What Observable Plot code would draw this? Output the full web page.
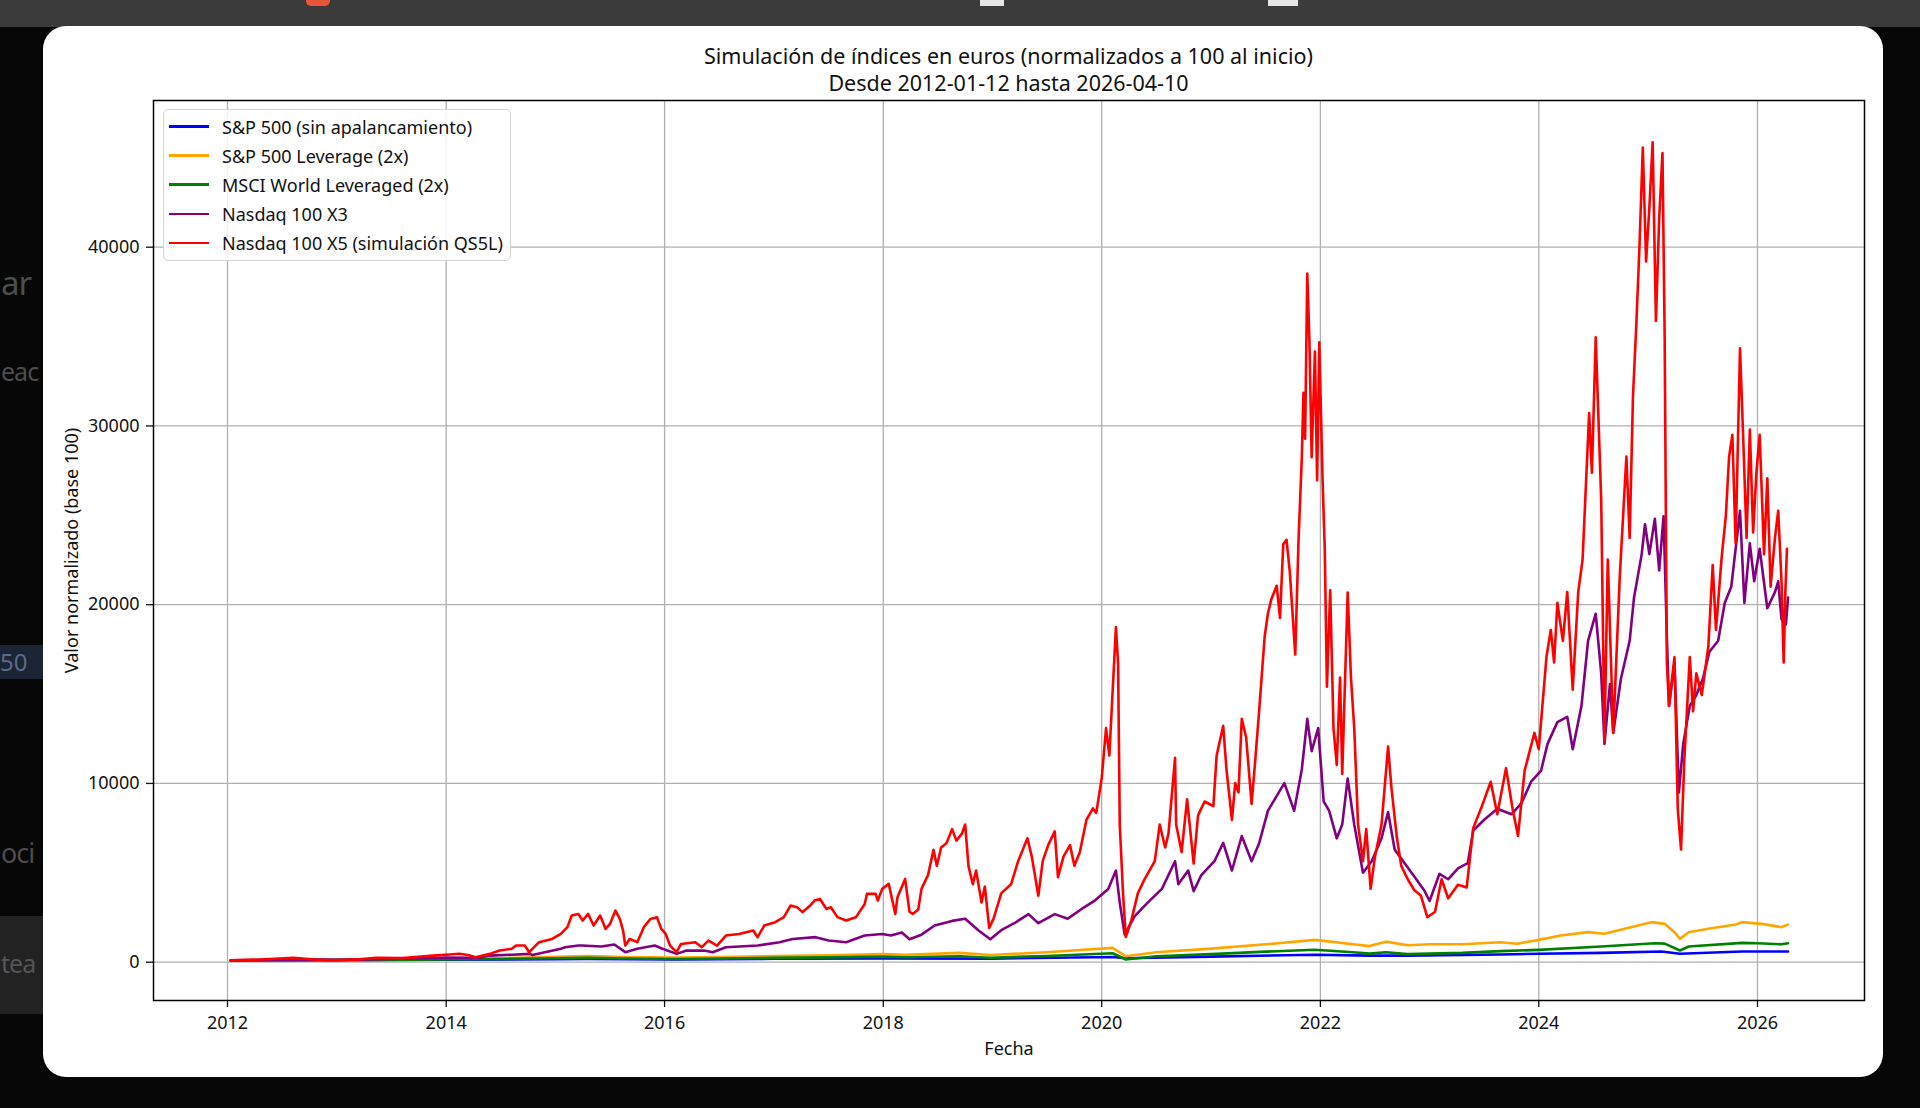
<!DOCTYPE html>
<html lang="es">
<head>
<meta charset="utf-8">
<script src="https://cdn.jsdelivr.net/npm/d3@7"></script>
<script src="https://cdn.jsdelivr.net/npm/@observablehq/plot@0.6"></script>
<style>
  html, body { margin: 0; padding: 0; width: 1920px; height: 1108px; overflow: hidden; background: #070707; font-family: "Noto Sans", sans-serif; }
  #topbar { position: absolute; left: 0; top: 0; width: 1920px; height: 27px; background: #3b3b3b; }
  .bgtxt { position: absolute; left: 1px; color: #4d4d4d; white-space: nowrap; letter-spacing: -1px; }
  #card { position: absolute; left: 43px; top: 26px; width: 1840px; height: 1051px; background: #fff; border-radius: 23px; }
  #chart { position: absolute; left: 0; top: 0; }
  #title { position: absolute; left: 153px; width: 1711px; top: 43px; text-align: center; font-size: 21.5px; line-height: 26.6px; color: #111; }
  #legend { position: absolute; left: 163px; top: 109px; width: 346px; height: 150px; border: 1px solid #d4d4d4; border-radius: 5px; background: rgba(255,255,255,0.85); }
  .lrow { position: absolute; left: 0; height: 29px; display: flex; align-items: center; font-size: 18px; color: #111; white-space: nowrap; }
  .lsw { width: 40px; height: 2.6px; margin-left: 5px; margin-right: 13px; }
</style>
</head>
<body>
<div id="topbar"></div>
<div style="position:absolute;left:306px;top:0;width:24px;height:6px;background:#e8553c;border-radius:0 0 5px 5px;"></div>
<div style="position:absolute;left:980px;top:0;width:24px;height:6px;background:#e6e6e6;"></div>
<div style="position:absolute;left:1268px;top:0;width:30px;height:6px;background:#e6e6e6;"></div>
<div class="bgtxt" style="top:260px;font-size:33px;">ar</div>
<div class="bgtxt" style="top:354px;font-size:25px;">eac</div>
<div style="position:absolute;left:0;top:645px;width:43px;height:34px;background:#1b2536;color:#5c6b85;font-size:24px;line-height:34px;">50</div>
<div class="bgtxt" style="top:834px;font-size:27px;">oci</div>
<div style="position:absolute;left:0;top:916px;width:43px;height:98px;background:#222;"></div>
<div class="bgtxt" style="top:946px;font-size:25px;color:#555;">tea</div>
<div id="card"></div>
<div id="chart"></div>
<div id="title">Simulación de índices en euros (normalizados a 100 al inicio)<br>Desde 2012-01-12 hasta 2026-04-10</div>
<div id="legend"></div>
<script>
// ---- Data (decimal year, value in base-100 euros) ----
const seriesNames = [
  "S&P 500 (sin apalancamiento)",
  "S&P 500 Leverage (2x)",
  "MSCI World Leveraged (2x)",
  "Nasdaq 100 X3",
  "Nasdaq 100 X5 (simulación QS5L)"
];
const seriesColors = ["#0000ff", "#ffa500", "#008000", "#800080", "#ff0000"];

const sp500 = [
  [2012.03,100],[2013.0,115],[2014.0,140],[2015.0,170],[2015.3,185],[2015.65,165],[2016.1,160],
  [2017.0,190],[2018.0,210],[2018.98,200],[2020.1,290],[2020.22,220],[2021.0,310],[2021.95,420],
  [2022.45,370],[2022.8,370],[2023.65,430],[2024.0,470],[2024.57,520],[2025.12,600],[2025.29,470],
  [2025.86,600],[2026.28,600]
];
const sp500x2 = [
  [2012.03,100],[2012.5,120],[2013.0,130],[2013.5,160],[2014.0,190],[2014.5,220],[2015.0,300],
  [2015.3,350],[2015.65,290],[2016.1,260],[2016.5,290],[2017.0,340],[2017.5,380],[2018.0,450],
  [2018.2,420],[2018.7,520],[2018.98,400],[2019.5,560],[2020.1,800],[2020.22,330],[2020.5,560],
  [2021.0,760],[2021.5,1000],[2021.95,1250],[2022.3,1000],[2022.45,900],[2022.6,1150],[2022.8,950],
  [2023.0,1000],[2023.3,1000],[2023.65,1120],[2023.8,1030],[2024.0,1250],[2024.2,1490],[2024.45,1680],
  [2024.6,1590],[2024.84,1960],[2025.03,2240],[2025.15,2145],[2025.24,1680],[2025.29,1306],
  [2025.37,1680],[2025.55,1870],[2025.8,2110],[2025.86,2240],[2026.04,2145],[2026.22,1960],[2026.28,2110]
];
const msci2x = [
  [2012.03,100],[2012.5,110],[2013.0,120],[2013.5,140],[2014.0,160],[2014.5,180],[2015.0,220],
  [2015.3,250],[2015.65,210],[2016.1,180],[2016.5,200],[2017.0,240],[2017.5,270],[2018.0,310],
  [2018.2,280],[2018.7,330],[2018.98,250],[2019.5,350],[2020.1,500],[2020.22,150],[2020.5,330],
  [2021.0,450],[2021.5,590],[2021.95,700],[2022.3,560],[2022.45,480],[2022.6,560],[2022.8,450],
  [2023.0,480],[2023.3,520],[2023.65,618],[2024.0,690],[2024.57,875],[2025.06,1060],[2025.15,1040],
  [2025.29,655],[2025.37,875],[2025.86,1080],[2026.0,1060],[2026.22,1000],[2026.28,1060]
];
const ndx3 = [
  [2012.03,100],[2012.6,160],[2013.0,130],[2013.5,180],[2014.0,260],[2014.3,250],[2014.4,370],
  [2014.6,420],[2014.77,465],[2014.79,400],[2015.05,750],[2015.09,840],[2015.21,930],[2015.24,935],
  [2015.42,875],[2015.54,990],[2015.64,560],[2015.75,750],[2015.91,930],[2015.98,750],[2016.11,465],
  [2016.2,650],[2016.36,650],[2016.44,560],[2016.56,840],[2016.85,930],[2017.05,1120],[2017.17,1300],
  [2017.38,1400],[2017.5,1210],[2017.66,1120],[2017.83,1490],[2017.99,1580],[2018.07,1490],
  [2018.17,1665],[2018.24,1280],[2018.35,1540],[2018.47,2050],[2018.63,2310],[2018.75,2435],
  [2018.87,1790],[2018.98,1280],[2019.08,1790],[2019.2,2180],[2019.33,2690],[2019.42,2180],
  [2019.57,2690],[2019.69,2435],[2019.81,2950],[2019.94,3460],[2020.06,4100],[2020.13,5130],
  [2020.165,3335],[2020.21,1540],[2020.30,2565],[2020.42,3335],[2020.55,4100],[2020.67,5650],
  [2020.70,4360],[2020.79,5130],[2020.84,3975],[2020.91,4875],[2021.03,5650],[2021.11,6675],
  [2021.19,5130],[2021.28,7060],[2021.37,5650],[2021.44,6675],[2021.52,8475],[2021.67,10015],
  [2021.76,8475],[2021.83,10785],[2021.88,13610],[2021.92,11810],[2021.98,13100],[2022.03,8990],
  [2022.08,8475],[2022.15,6930],[2022.20,7700],[2022.25,10270],[2022.31,7700],[2022.39,5005],
  [2022.47,5650],[2022.56,6930],[2022.62,8400],[2022.68,6300],[2022.77,5545],[2022.86,4790],
  [2022.95,4030],[2023.0,3425],[2023.09,4940],[2023.17,4640],[2023.26,5245],[2023.35,5545],
  [2023.40,7365],[2023.50,7970],[2023.62,8580],[2023.75,8275],[2023.84,8880],[2023.93,10095],
  [2024.02,10700],[2024.08,12215],[2024.17,13430],[2024.26,13730],[2024.31,11915],[2024.39,14340],
  [2024.45,17980],[2024.52,19495],[2024.57,16160],[2024.60,12215],[2024.65,15555],[2024.68,12825],
  [2024.75,15860],[2024.83,17980],[2024.87,20405],[2024.94,22830],[2024.97,24500],[2025.01,22830],
  [2025.06,24800],[2025.10,21920],[2025.14,24950],[2025.17,18280],[2025.19,14340],[2025.24,16765],
  [2025.28,9490],[2025.32,12215],[2025.38,14340],[2025.44,14945],[2025.50,15860],[2025.56,17370],
  [2025.64,17980],[2025.70,20100],[2025.76,21010],[2025.84,25255],[2025.88,20100],[2025.93,23435],
  [2025.97,21310],[2026.02,23130],[2026.09,19800],[2026.16,20705],[2026.19,21310],[2026.22,19190],
  [2026.26,18890],[2026.28,20400]
];
const qs5l = [
  [2012.03,100],[2012.3,150],[2012.6,240],[2012.8,150],[2012.97,110],[2013.2,160],[2013.36,240],
  [2013.6,230],[2013.88,370],[2014.03,430],[2014.12,470],[2014.2,400],[2014.27,280],[2014.4,465],
  [2014.49,655],[2014.6,750],[2014.64,935],[2014.72,930],[2014.76,560],[2014.85,1120],[2014.97,1300],
  [2015.05,1585],[2015.11,1960],[2015.15,2610],[2015.21,2700],[2015.25,2330],[2015.3,2700],
  [2015.35,2050],[2015.41,2610],[2015.46,1860],[2015.5,2140],[2015.55,2890],[2015.59,2425],
  [2015.62,1770],[2015.64,930],[2015.68,1300],[2015.75,1120],[2015.81,1960],[2015.87,2420],
  [2015.93,2520],[2015.97,1860],[2016.01,1580],[2016.05,930],[2016.11,560],[2016.15,1020],
  [2016.28,1120],[2016.34,840],[2016.4,1210],[2016.48,930],[2016.56,1490],[2016.68,1580],
  [2016.81,1770],[2016.85,1400],[2016.91,2050],[2017.01,2240],[2017.09,2520],[2017.15,3170],
  [2017.21,3080],[2017.26,2800],[2017.33,3170],[2017.37,3450],[2017.42,3540],[2017.48,2980],
  [2017.52,3070],[2017.58,2520],[2017.66,2330],[2017.75,2520],[2017.83,3260],[2017.85,3820],
  [2017.93,3820],[2017.95,3450],[2017.99,4100],[2018.05,4380],[2018.07,3820],[2018.11,2700],
  [2018.13,3630],[2018.2,4660],[2018.24,2820],[2018.27,2700],[2018.32,2950],[2018.35,4100],
  [2018.41,4875],[2018.46,6290],[2018.49,5390],[2018.53,6420],[2018.58,6675],[2018.63,7445],
  [2018.67,6800],[2018.72,7190],[2018.75,7700],[2018.78,5390],[2018.82,4360],[2018.85,5130],
  [2018.9,3335],[2018.93,4235],[2018.97,1920],[2019.01,2435],[2019.08,3850],[2019.17,4360],
  [2019.235,5650],[2019.32,6930],[2019.36,5905],[2019.42,3720],[2019.46,5650],[2019.51,6550],
  [2019.57,7320],[2019.6,4750],[2019.65,5905],[2019.71,6550],[2019.75,5390],[2019.8,6160],
  [2019.86,7960],[2019.92,8600],[2019.95,8345],[2020.0,10270],[2020.04,13100],[2020.07,11560],
  [2020.13,18750],[2020.15,16700],[2020.165,7700],[2020.195,3850],[2020.22,1410],[2020.27,2310],
  [2020.33,3850],[2020.39,4620],[2020.485,5650],[2020.53,7700],[2020.58,6420],[2020.61,7190],
  [2020.67,11430],[2020.68,7700],[2020.73,6160],[2020.78,9115],[2020.84,5520],[2020.88,8215],
  [2020.94,8990],[2021.02,8730],[2021.05,11560],[2021.11,13225],[2021.14,10785],[2021.19,7960],
  [2021.22,10015],[2021.25,9500],[2021.28,13610],[2021.32,12585],[2021.37,8860],[2021.4,11040],
  [2021.44,14125],[2021.49,18235],[2021.52,19520],[2021.55,20290],[2021.6,21060],[2021.63,19260],
  [2021.66,23375],[2021.69,23630],[2021.72,21830],[2021.77,17210],[2021.8,23630],[2021.83,28255],
  [2021.845,31850],[2021.86,29280],[2021.88,38530],[2021.90,34680],[2021.92,28255],[2021.95,34165],
  [2021.97,26970],[2021.99,34680],[2022.02,26970],[2022.04,23115],[2022.06,15410],[2022.09,20805],
  [2022.12,13100],[2022.15,11040],[2022.18,15925],[2022.20,10530],[2022.25,20675],[2022.28,15925],
  [2022.31,13100],[2022.345,7700],[2022.39,5650],[2022.42,7445],[2022.46,4105],[2022.5,5905],
  [2022.56,7700],[2022.62,12070],[2022.65,9790],[2022.70,7000],[2022.74,5400],[2022.80,4640],
  [2022.86,4030],[2022.92,3730],[2022.98,2515],[2023.05,2820],[2023.11,4640],[2023.17,3575],
  [2023.26,4335],[2023.34,4180],[2023.40,7515],[2023.47,8580],[2023.56,10095],[2023.62,8275],
  [2023.70,10855],[2023.76,8580],[2023.81,7065],[2023.87,10700],[2023.96,12825],[2024.0,11915],
  [2024.07,17070],[2024.11,18585],[2024.14,16765],[2024.17,20100],[2024.22,17980],[2024.26,20705],
  [2024.31,15250],[2024.36,20705],[2024.40,22525],[2024.46,30715],[2024.485,27380],[2024.52,34955],
  [2024.54,31320],[2024.57,25860],[2024.60,12370],[2024.63,22525],[2024.68,12825],[2024.74,21615],
  [2024.80,28285],[2024.83,23740],[2024.86,31620],[2024.89,35565],[2024.92,40110],[2024.95,45570],
  [2024.98,39200],[2025.01,42235],[2025.04,45870],[2025.07,35870],[2025.10,41630],[2025.13,45265],
  [2025.15,34955],[2025.17,16765],[2025.19,14340],[2025.24,17070],[2025.27,8580],[2025.30,6305],
  [2025.33,11310],[2025.38,17070],[2025.41,14035],[2025.44,16160],[2025.49,14945],[2025.55,17675],
  [2025.59,22220],[2025.62,18585],[2025.67,22525],[2025.71,24950],[2025.74,28285],[2025.77,29500],
  [2025.80,23435],[2025.84,34350],[2025.87,29195],[2025.90,23740],[2025.93,29800],[2025.96,24040],
  [2025.99,27380],[2026.02,29500],[2026.06,22830],[2026.09,27075],[2026.12,21010],[2026.16,23740],
  [2026.19,25255],[2026.22,21310],[2026.24,16765],[2026.255,20705],[2026.27,23130]
];
const seriesData = [sp500, sp500x2, msci2x, ndx3, qs5l];

const xTickYears = [2012, 2014, 2016, 2018, 2020, 2022, 2024, 2026];
const yTickValues = [0, 10000, 20000, 30000, 40000];
const xDomainYears = [2011.3225, 2026.98];
const yDomain = [-2143, 48207];

const toDate = (y) => {
  const yr = Math.floor(y);
  const s = Date.UTC(yr, 0, 1), e = Date.UTC(yr + 1, 0, 1);
  return new Date(s + (y - yr) * (e - s));
};

const rows = seriesData.flatMap((arr, i) =>
  arr.map(([t, v]) => ({date: toDate(t), value: v, series: seriesNames[i]})));

const xTicks = xTickYears.map(y => new Date(Date.UTC(y, 0, 1)));

const chart = Plot.plot({
  width: 1920,
  height: 1108,
  marginLeft: 153,
  marginRight: 56,
  marginTop: 100,
  marginBottom: 108,
  style: {background: "transparent", fontFamily: "Noto Sans, sans-serif", fontSize: "18px", color: "#111", overflow: "visible"},
  x: {type: "utc", domain: xDomainYears.map(toDate)},
  y: {domain: yDomain},
  color: {domain: seriesNames, range: seriesColors},
  marks: [
    Plot.gridX({ticks: xTicks, stroke: "#b0b0b0", strokeOpacity: 1, strokeWidth: 1.3}),
    Plot.gridY({ticks: yTickValues, stroke: "#b0b0b0", strokeOpacity: 1, strokeWidth: 1.3}),
    Plot.axisX({ticks: xTicks, tickFormat: d3.utcFormat("%Y"), tickSize: 7, tickPadding: 9, label: null, strokeWidth: 1.3}),
    Plot.axisY({ticks: yTickValues, tickFormat: d => String(d), tickSize: 7, tickPadding: 7, label: null, strokeWidth: 1.3}),
    ...seriesNames.map(name =>
      Plot.lineY(rows.filter(r => r.series === name), {x: "date", y: "value", stroke: "series", strokeWidth: 2.6})),
    Plot.frame({stroke: "#000", strokeWidth: 1.5}),
    Plot.text(["Fecha"], {text: d => d, frameAnchor: "bottom", dy: 49, lineAnchor: "middle", textAnchor: "middle", fontSize: 18, fill: "#111"}),
    Plot.text(["Valor normalizado (base 100)"], {text: d => d, frameAnchor: "left", dx: -81, rotate: -90, lineAnchor: "middle", textAnchor: "middle", fontSize: 18, fill: "#111"})
  ]
});
document.getElementById("chart").appendChild(chart);

// Legend (HTML overlay, built from the series arrays)
const legend = document.getElementById("legend");
seriesNames.forEach((name, i) => {
  const row = document.createElement("div");
  row.className = "lrow";
  row.style.top = (2 + i * 29.1) + "px";
  const sw = document.createElement("span");
  sw.className = "lsw";
  sw.style.background = seriesColors[i];
  const tx = document.createElement("span");
  tx.textContent = name;
  row.appendChild(sw);
  row.appendChild(tx);
  legend.appendChild(row);
});
</script>
</body>
</html>
